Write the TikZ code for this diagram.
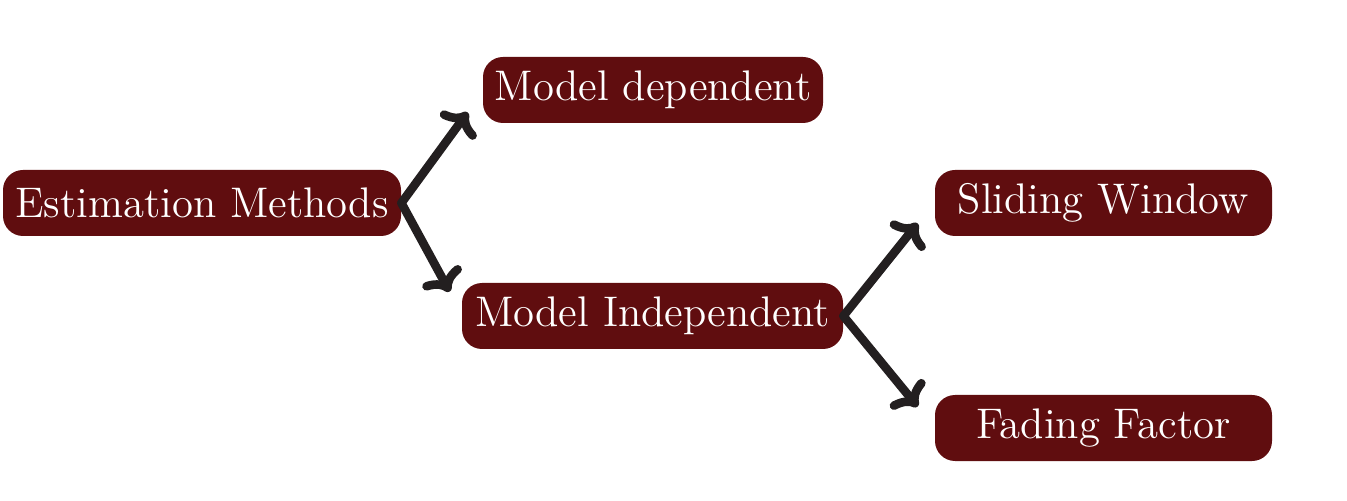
\documentclass[tikz,border=0pt]{standalone}
\usepackage{fontspec}
\newfontfamily\lmtw{lmroman12-regular.otf}
\usetikzlibrary{arrows.meta}
\definecolor{boxred}{HTML}{600D0F}
\definecolor{arrowgray}{HTML}{231F20}
\begin{document}
\begin{tikzpicture}[x=0.5pt,y=-0.5pt,
  box/.style={draw=none,fill=boxred,text=white,rounded corners=10pt,
    minimum height=33pt,inner sep=0pt,font=\lmtw\fontsize{21.4}{26}\selectfont},
  conn/.style={draw=arrowgray,line width=4.3pt,line cap=round,line join=round,
    -{To[length=10pt,width=22pt,line cap=round]}}]
\useasboundingbox (0,0) rectangle (1347,501);
\node[box,minimum width=199pt] (em) at (202,203) {Estimation Methods};
\node[box,minimum width=170pt] (md) at (653,90) {Model dependent};
\node[box,minimum width=190.5pt] (mi) at (652.5,316) {Model Independent};
\node[box,minimum width=168.5pt] (sw) at (1103.5,203) {Sliding Window};
\node[box,minimum width=168.5pt] (ff) at (1103.5,428) {Fading Factor};
\draw[conn] (em.east) -- ([xshift=-7.5pt,yshift=5.5pt]md.south west);
\draw[conn] (em.east) -- ([xshift=-6pt,yshift=-4.5pt]mi.north west);
\draw[conn] (mi.east) -- ([xshift=-8.5pt,yshift=6.5pt]sw.south west);
\draw[conn] (mi.east) -- ([xshift=-8.5pt,yshift=-6pt]ff.north west);
\end{tikzpicture}
\end{document}
